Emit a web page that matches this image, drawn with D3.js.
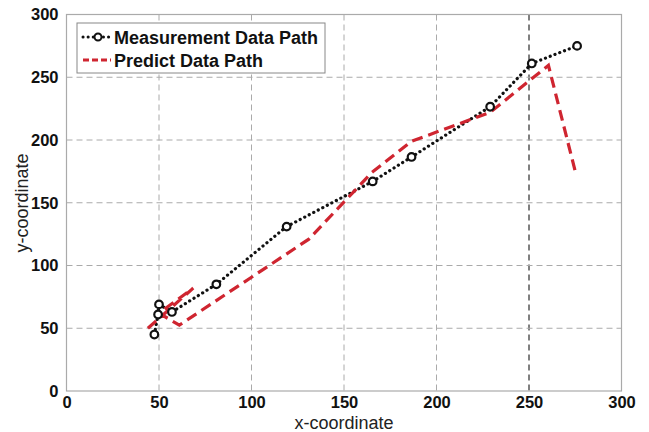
<!DOCTYPE html>
<html><head><meta charset="utf-8">
<script src="https://cdn.jsdelivr.net/npm/d3@7"></script>
<style>body{margin:0;background:#fff;} svg{display:block;font-family:"Liberation Sans",Arial,sans-serif;}</style>
</head><body><svg id="c" width="649" height="432"></svg>
<script>
const measX = [47.5, 49.5, 50, 57, 81, 119, 165.5, 186.5, 229, 251.5, 276];
const measY = [45, 61, 69, 63, 85, 131, 167, 186.5, 226.5, 261, 275];
const predX = [44, 68.5, 50, 61, 131, 165, 186.5, 229, 260.5, 275];
const predY = [50, 82, 62, 52.5, 121, 174, 199, 222, 259.5, 175];
const xTicks = [0, 50, 100, 150, 200, 250, 300];
const yTicks = [0, 50, 100, 150, 200, 250, 300];
const seriesNames = ["Measurement Data Path", "Predict Data Path"];

const svg = d3.select("#c");
const L = 66.5, R = 621.5, T = 14.5, B = 391;
const x = d3.scaleLinear().domain([0, 300]).range([L, R]);
const y = d3.scaleLinear().domain([0, 300]).range([B, T]);

// grid
const g = svg.append("g");
g.selectAll(".vx").data(xTicks.filter(d => d > 0 && d < 300)).join("line")
  .attr("x1", d => x(d)).attr("x2", d => x(d)).attr("y1", T).attr("y2", B)
  .attr("stroke", d => d === 250 ? "#000" : "#aaa").attr("stroke-width", 1)
  .attr("stroke-dasharray", "6,4");
g.selectAll(".hy").data(yTicks.filter(d => d > 0 && d < 300)).join("line")
  .attr("y1", d => y(d)).attr("y2", d => y(d)).attr("x1", L).attr("x2", R)
  .attr("stroke", "#aaa").attr("stroke-width", 1).attr("stroke-dasharray", "6,4");

// frame
svg.append("rect").attr("x", L).attr("y", T).attr("width", R - L).attr("height", B - T)
  .attr("fill", "none").attr("stroke", "#aaa").attr("stroke-width", 1.2);

// axes labels
const xa = svg.append("g").attr("transform", `translate(0,${B})`)
  .call(d3.axisBottom(x).tickValues(xTicks).tickSize(0).tickPadding(5));
xa.select(".domain").remove();
xa.selectAll("text").attr("font-size", 16.5).attr("font-weight", "bold").attr("fill", "#111")
  .attr("font-family", "Liberation Sans, Arial, sans-serif");
const ya = svg.append("g").attr("transform", `translate(${L},0)`)
  .call(d3.axisLeft(y).tickValues(yTicks).tickSize(0).tickPadding(8));
ya.select(".domain").remove();
ya.selectAll("text").attr("font-size", 16.5).attr("font-weight", "bold").attr("fill", "#111")
  .attr("font-family", "Liberation Sans, Arial, sans-serif");

svg.append("text").attr("x", 344).attr("y", 429).attr("text-anchor", "middle")
  .attr("font-size", 18).attr("fill", "#222").text("x-coordinate");
svg.append("text").attr("transform", `translate(28,203) rotate(-90)`)
  .attr("text-anchor", "middle").attr("font-size", 18).attr("fill", "#222").text("y-coordinate");

// lines
const line = d3.line().x(d => x(d[0])).y(d => y(d[1]));
const meas = measX.map((v, i) => [v, measY[i]]);
const pred = predX.map((v, i) => [v, predY[i]]);
const red = "#cf2530";

svg.append("path").attr("d", line(meas)).attr("fill", "none").attr("stroke", "#111")
  .attr("stroke-width", 3.2).attr("stroke-linecap", "round").attr("stroke-dasharray", "0.1,5");
svg.append("path").attr("d", line(pred)).attr("fill", "none").attr("stroke", red)
  .attr("stroke-width", 3.2).attr("stroke-dasharray", "11,6");
svg.selectAll(".m").data(meas).join("circle")
  .attr("cx", d => x(d[0])).attr("cy", d => y(d[1])).attr("r", 3.8)
  .attr("fill", "#fff").attr("stroke", "#111").attr("stroke-width", 2.2);

// legend
const lg = svg.append("g");
lg.append("rect").attr("x", 77).attr("y", 23).attr("width", 248).attr("height", 50)
  .attr("fill", "#fff").attr("stroke", "#888").attr("stroke-width", 1);
const rows = [{n: seriesNames[0], c: "#111", dash: "0.1,5", cap: "round", mk: true},
              {n: seriesNames[1], c: red, dash: "6,3", cap: "butt", mk: false}];
rows.forEach((r, i) => {
  const yy = 37 + i * 23;
  lg.append("line").attr("x1", 83).attr("x2", 111).attr("y1", yy).attr("y2", yy)
    .attr("stroke", r.c).attr("stroke-width", 3).attr("stroke-dasharray", r.dash).attr("stroke-linecap", r.cap);
  if (r.mk) lg.append("circle").attr("cx", 98).attr("cy", yy).attr("r", 3.5)
    .attr("fill", "#fff").attr("stroke", "#111").attr("stroke-width", 2);
  lg.append("text").attr("x", 114).attr("y", yy + 6.5).attr("font-size", 18).attr("font-weight", "bold")
    .attr("fill", "#111").text(r.n);
});
</script></body></html>
